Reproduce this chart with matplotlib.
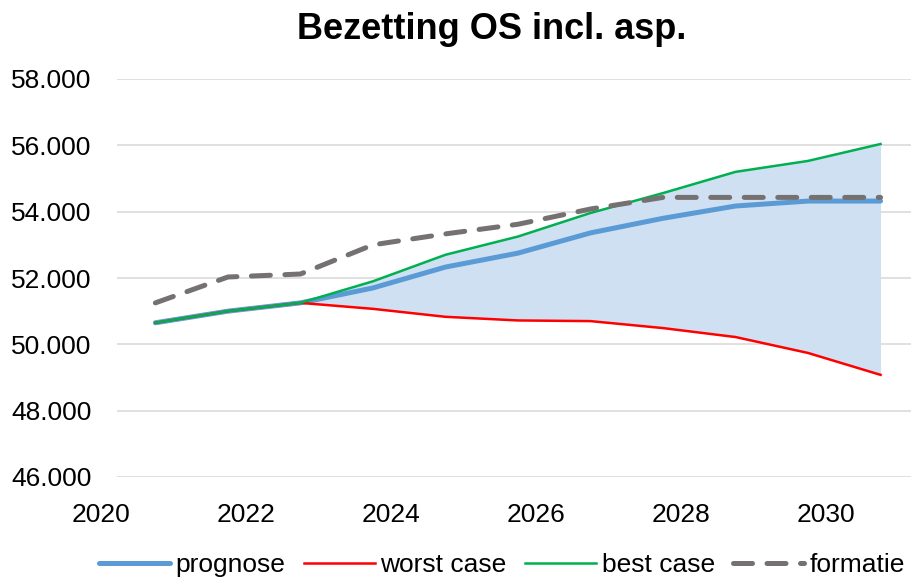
import numpy as np
import matplotlib
matplotlib.use("Agg")
import matplotlib.pyplot as plt
from matplotlib.ticker import FuncFormatter

plt.rcParams['font.family'] = ['Liberation Sans', 'DejaVu Sans']

# peildatum 1 oktober van elk jaar
years = [2020, 2021, 2022, 2023, 2024, 2025, 2026, 2027, 2028, 2029, 2030]
x = np.array(years) + 0.75

prognose = [50650, 51000, 51250, 51700, 52330, 52750, 53360, 53800, 54170, 54320, 54320]
worst = [50650, 51000, 51250, 51070, 50830, 50720, 50700, 50490, 50220, 49740, 49080]
best = [50650, 51000, 51250, 51900, 52700, 53250, 53960, 54560, 55200, 55530, 56040]
formatie = [51250, 52030, 52120, 53000, 53330, 53620, 54080, 54430, 54430, 54430, 54430]

xticks = [2020, 2022, 2024, 2026, 2028, 2030]
yticks = [46000, 48000, 50000, 52000, 54000, 56000, 58000]

fig = plt.figure(figsize=(9.13, 5.81), dpi=100)
ax = fig.add_axes([72 / 913, 1 - 477 / 581, (911 - 72) / 913, (477 - 79) / 581])

ax.fill_between(x, worst, best, color='#cfe0f2', lw=0, zorder=1)
ax.hlines(yticks, 2020.22, 2031.17, color='#e0e0e0', lw=1.4, zorder=0)

ax.plot(x, prognose, color='#5b9bd5', lw=3.6, label='prognose', zorder=3,
        solid_capstyle='round')
ax.plot(x, worst, color='#ff0000', lw=1.8, label='worst case', zorder=4)
ax.plot(x, best, color='#00b050', lw=1.8, label='best case', zorder=5)
ax.plot(x, formatie, color='#767171', lw=3.6, ls=(0, (3.8, 2.9)), label='formatie',
        zorder=6, dash_capstyle='round')

ax.set_xlim(2019.6, 2031.17)
ax.set_ylim(46000, 58000)
ax.set_xticks(xticks)
ax.set_yticks(yticks)
ax.yaxis.set_major_formatter(FuncFormatter(lambda v, p: f"{v:,.0f}".replace(',', '.')))
ax.tick_params(axis='both', length=0, labelsize=19)
ax.tick_params(axis='y', pad=-14)
ax.tick_params(axis='x', pad=19)
for s in ax.spines.values():
    s.set_visible(False)

ax.set_title('Bezetting OS incl. asp.', fontsize=26, fontweight='bold', pad=29)

fig.legend(loc='center', bbox_to_anchor=(502 / 913, 1 - 565 / 581), ncol=4,
           frameon=False, fontsize=19, handlelength=2.7, handletextpad=0.2,
           columnspacing=0.7)

fig.savefig('out.png', dpi=100)
